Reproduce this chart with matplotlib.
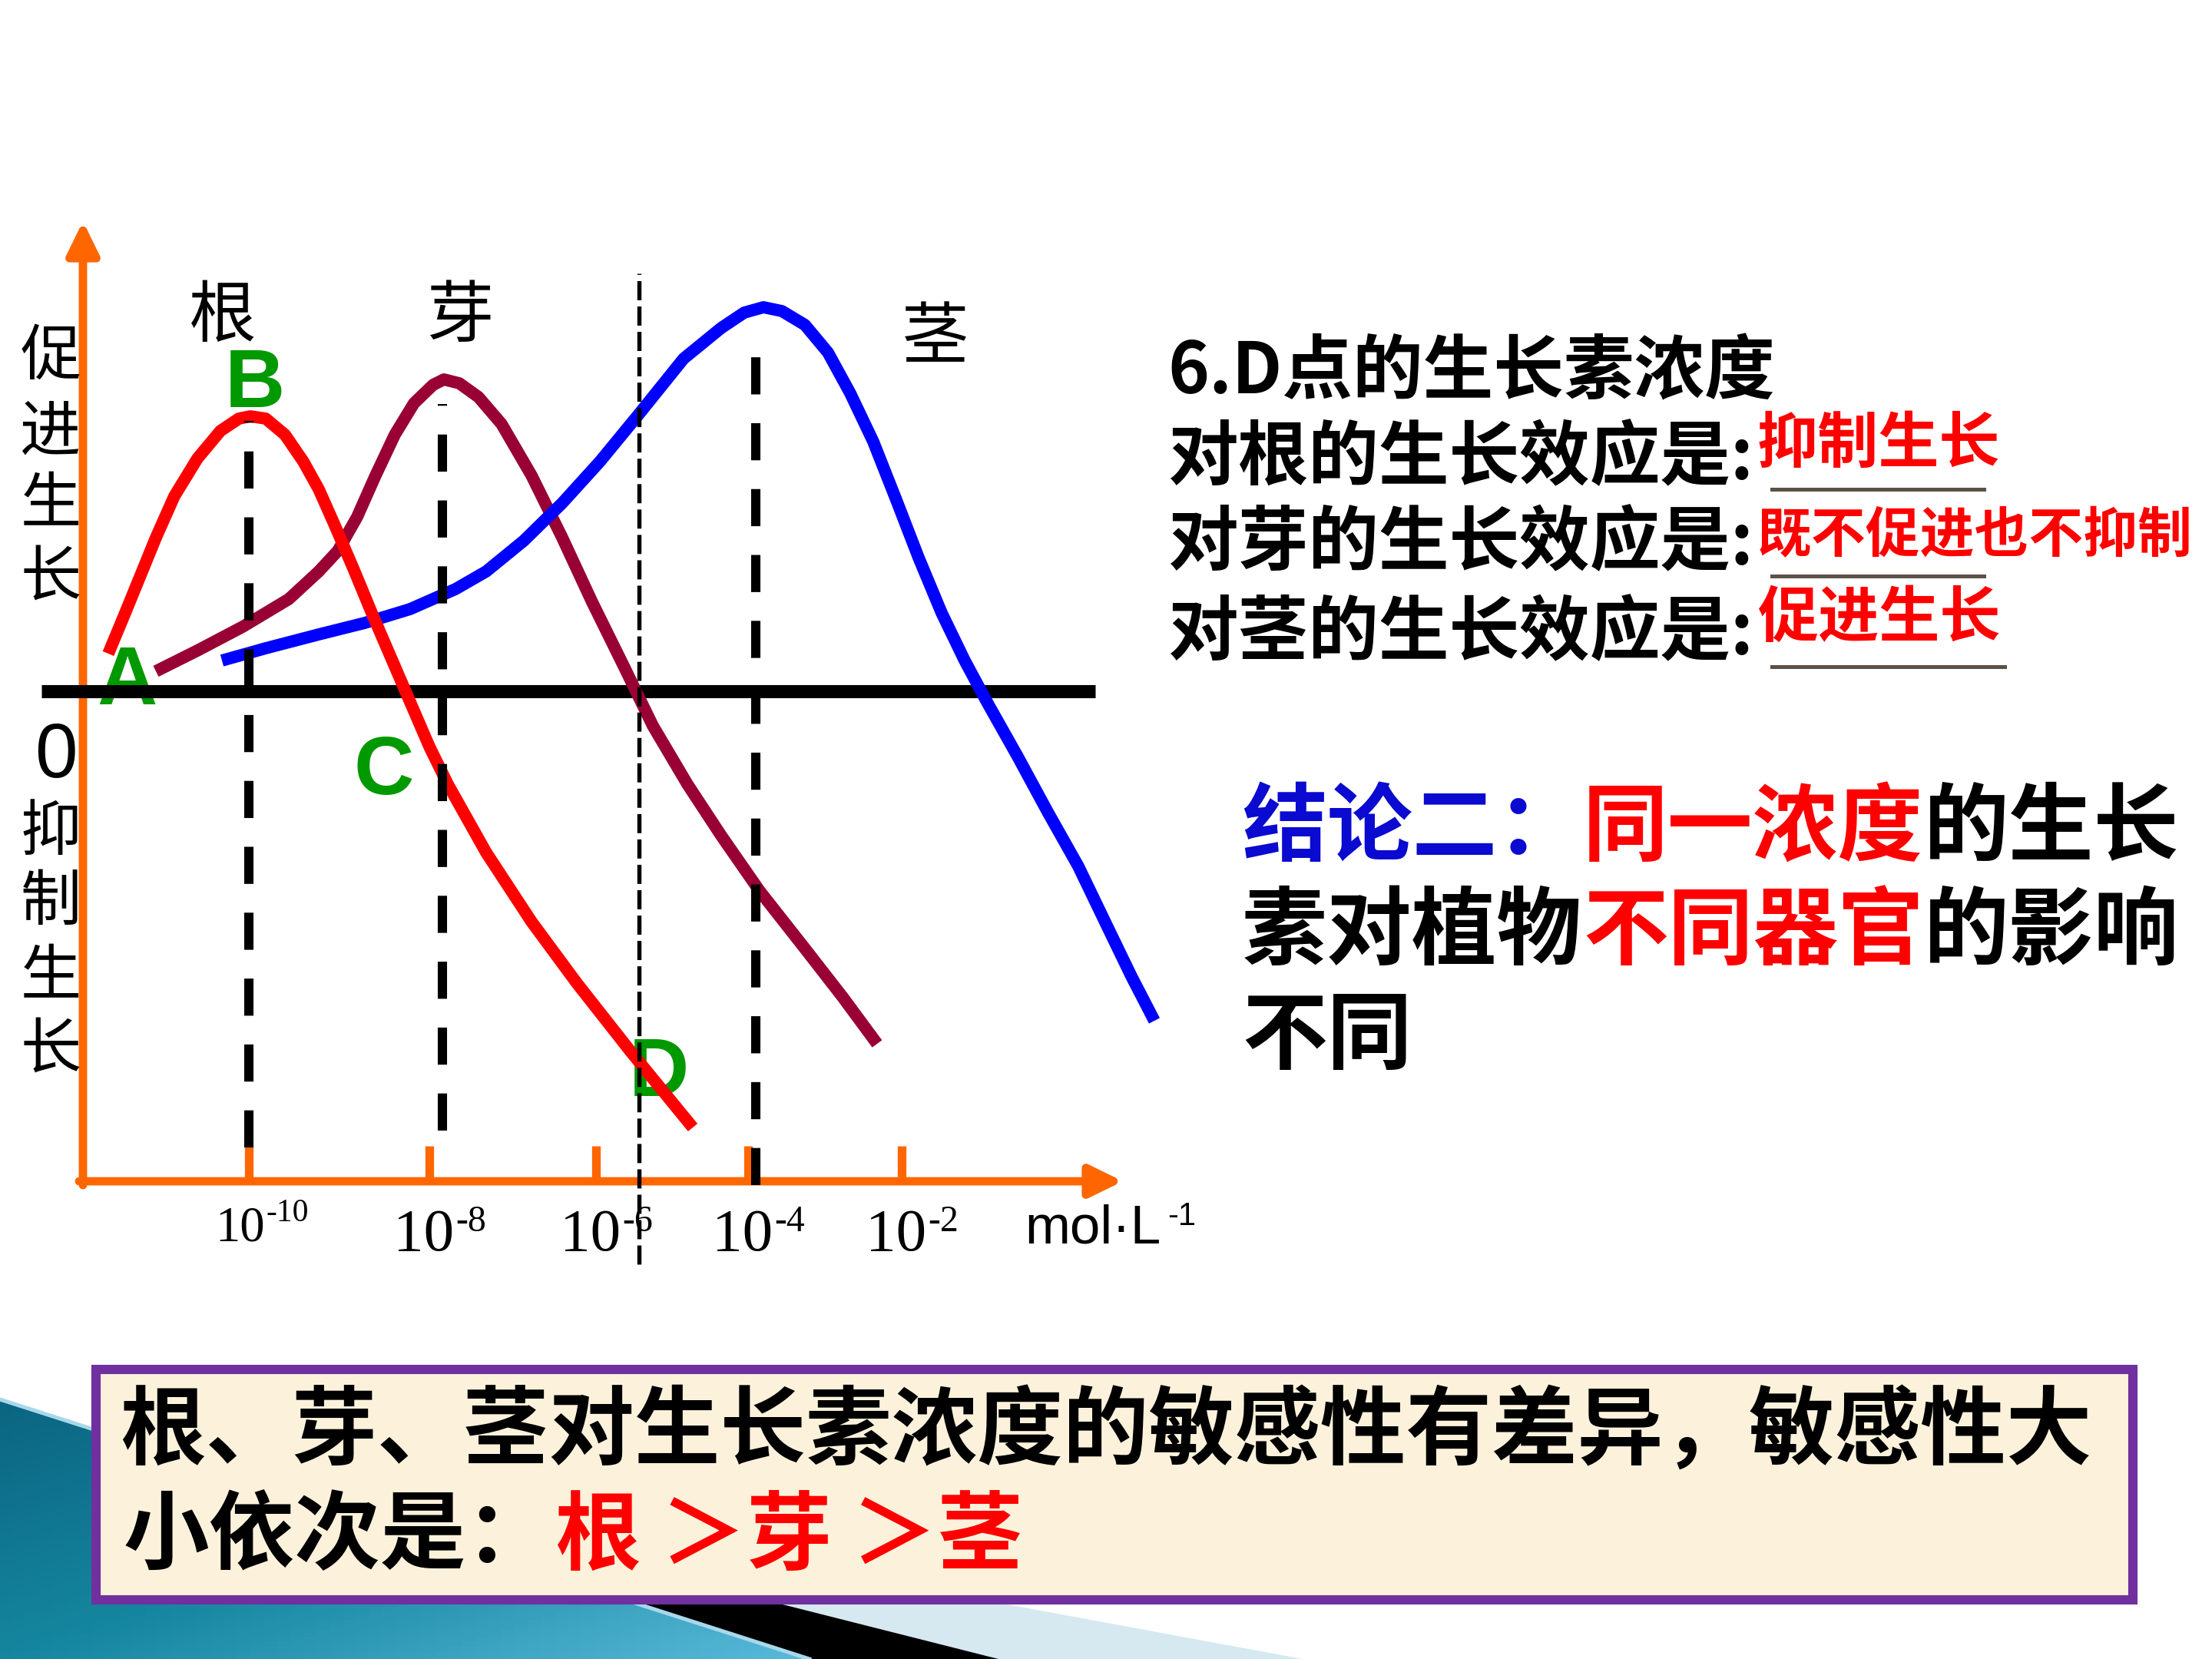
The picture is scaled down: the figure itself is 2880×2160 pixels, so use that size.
import numpy as np
import matplotlib
matplotlib.use('Agg')
import matplotlib.pyplot as plt
from matplotlib.patches import Polygon, Rectangle
from matplotlib.colors import LinearSegmentedColormap

plt.rcParams['font.family'] = ['Noto Sans CJK SC', 'DejaVu Sans']

# ---- data (x: position along the concentration axis, y: growth effect) ----
root_x = [0.33, 0.55, 0.75, 0.95, 1.19, 1.49, 1.79, 2.03, 2.18, 2.38, 2.63, 2.87, 3.07, 3.27,
          3.52, 3.76, 4.01, 4.26, 4.51, 4.75, 5.25, 5.84, 6.43, 7.13, 7.94]
root_y = [0.49, 1.02, 1.51, 2.00, 2.54, 3.03, 3.39, 3.55, 3.58, 3.55, 3.34, 2.99, 2.63, 2.18,
          1.60, 1.02, 0.44, -0.14, -0.72, -1.21, -2.10, -3.00, -3.80, -4.69, -5.68]

bud_x = [0.95, 1.49, 2.08, 2.68, 3.07, 3.32, 3.57, 3.81, 4.06, 4.31, 4.56, 4.70, 4.90, 5.15,
         5.45, 5.84, 6.24, 6.63, 7.03, 7.42, 7.87, 8.31, 8.81, 9.40, 9.89, 10.34]
bud_y = [0.26, 0.53, 0.84, 1.20, 1.56, 1.83, 2.27, 2.81, 3.34, 3.75, 3.99, 4.06, 4.01, 3.83,
         3.48, 2.81, 2.00, 1.16, 0.35, -0.45, -1.21, -1.88, -2.60, -3.35, -3.98, -4.59]

stem_x = [1.81, 2.38, 3.07, 3.67, 4.26, 4.85, 5.25, 5.74, 6.24, 6.73, 7.24, 7.82, 8.31, 8.61,
          8.86, 9.10, 9.40, 9.70, 9.99, 10.29, 10.59, 10.88, 11.18, 11.48, 11.77, 12.17, 12.56,
          12.96, 13.35, 13.65, 13.95]
stem_y = [0.40, 0.56, 0.74, 0.89, 1.07, 1.33, 1.56, 1.96, 2.45, 2.99, 3.61, 4.33, 4.73, 4.93,
          5.00, 4.95, 4.77, 4.41, 3.88, 3.25, 2.49, 1.74, 1.02, 0.40, -0.14, -0.85, -1.57,
          -2.28, -3.09, -3.71, -4.29]

tick_pos = [2.16, 4.51, 6.68, 8.66, 10.66]
tick_exp = ['-10', '-8', '-6', '-4', '-2']

guide_x = [2.16, 4.68, 8.76]          # optimum concentrations (dashed)
guide_top = [3.52, 3.74, 4.68]
guide_bottom = [-5.94, -5.72, -6.43]
d_conc = 7.24                          # concentration of point D

point_names = ['A', 'B', 'C', 'D']
point_x = [0.57, 2.24, 3.92, 7.50]
point_y = [-0.17, 3.70, -1.34, -5.27]

organ_names = ['根', '芽', '茎']
organ_x = [1.82, 4.91, 11.10]
organ_y = [4.87, 4.87, 4.59]

promote_chars = ['促', '进', '生', '长']
promote_y = [4.35, 3.36, 2.42, 1.47]
inhibit_chars = ['抑', '制', '生', '长']
inhibit_y = [-1.84, -2.75, -3.73, -4.68]

ORANGE = '#FF6600'
GREEN = '#009900'
W, H = 2880, 2160


def fp(x, y):
    return x / W, 1 - y / H


fig = plt.figure(figsize=(9.6, 7.2), dpi=300)
fig.patch.set_facecolor('white')

# ---- background decoration (bottom-left slide theme) ----
bg = fig.add_axes([0, 0, 1, 1], zorder=0)
bg.set_xlim(0, W)
bg.set_ylim(H, 0)
bg.axis('off')
grad = np.add.outer(np.linspace(0, 1, 64), np.linspace(0, 1, 64))
teal_cmap = LinearSegmentedColormap.from_list('teal', ['#0b6380', '#15869f', '#5bbbdc'])
im = bg.imshow(grad, extent=(0, 1100, H, 1800), cmap=teal_cmap, aspect='auto', zorder=1)
teal = Polygon([(0, 1822), (1054, H), (0, H)], closed=True, fc='none', ec='none')
bg.add_patch(teal)
im.set_clip_path(teal)
bg.add_patch(Polygon([(223, 1888), (1300, H), (1696, H)], closed=True, fc='#d6e8f0', ec='none', zorder=0.5))
bg.add_patch(Polygon([(137, 1866), (1054, H), (1300, H)], closed=True, fc='black', ec='none', zorder=2))
bg.plot([0, 1054], [1822, H], color='#a8d8ea', lw=1.2, zorder=3)
bg.add_patch(Rectangle((125, 1783), 2652, 300, fc='#fcf2dc', ec='#7030a0', lw=2.9, zorder=5))
bg.set_xlim(0, W)
bg.set_ylim(H, 0)

# ---- chart ----
ax = fig.add_axes([0, 0, 1, 1], zorder=1)
ax.patch.set_alpha(0)
ax.set_xlim(-1.08, 27.72)
ax.set_ylim(-12.6, 9.0)
ax.axis('off')

x_axis_y = -6.38
arrow = dict(arrowstyle='-|>,head_length=0.86,head_width=0.42', mutation_scale=10,
             lw=2.6, color=ORANGE, shrinkA=0, shrinkB=0)
ax.annotate('', xy=(13.54, x_axis_y), xytext=(-0.05, x_axis_y), arrowprops=arrow, zorder=2)
ax.annotate('', xy=(0, 6.12), xytext=(0, x_axis_y - 0.05), arrowprops=arrow, zorder=2)
ax.vlines(tick_pos, x_axis_y, x_axis_y + 0.46, color=ORANGE, lw=2.7, zorder=2)

for name, x, y in zip(point_names, point_x, point_y):
    ax.text(x, y, name, color=GREEN, fontsize=26, fontweight='bold', family='Liberation Sans',
            ha='center', va='baseline', zorder=3)

ax.plot([-0.54, 13.18], [0, 0], color='black', lw=4.1, solid_capstyle='butt', zorder=4)

curve_style = dict(lw=3.8, solid_capstyle='butt', solid_joinstyle='round')
ax.plot(bud_x, bud_y, color='#990033', zorder=5, **curve_style)
ax.plot(stem_x, stem_y, color='#0000FF', zorder=6, **curve_style)
ax.plot(root_x, root_y, color='#FF0000', zorder=7, **curve_style)

for x, t, b in zip(guide_x, guide_top, guide_bottom):
    ax.plot([x, x], [b, t], color='black', lw=2.9, linestyle=(0, (4, 3.1)), zorder=8)
ax.plot([d_conc, d_conc], [-7.46, 5.44], color='black', lw=1.3, linestyle=(0, (4.6, 1.5)), zorder=8)

for name, x, y in zip(organ_names, organ_x, organ_y):
    ax.text(x, y, name, fontsize=21, ha='center', va='center', zorder=9)
for ch, y in zip(promote_chars, promote_y):
    ax.text(-0.42, y, ch, fontsize=19, ha='center', va='center', zorder=9)
for ch, y in zip(inhibit_chars, inhibit_y):
    ax.text(-0.42, y, ch, fontsize=19, ha='center', va='center', zorder=9)
ax.text(-0.35, -1.12, '0', fontsize=24, family='Liberation Sans', ha='center', va='baseline')

for i, (pos, e) in enumerate(zip(tick_pos, tick_exp)):
    if i == 0:
        base, size, sup, by = pos + 0.21, 15.5, 10, -7.15
    else:
        base, size, sup, by = pos + 0.32, 19, 11.5, -7.28
    ax.text(base, by, '10', fontsize=size, family='Liberation Serif', ha='right', va='baseline')
    ax.text(base + 0.02, by + 0.25, e, fontsize=sup, family='Liberation Serif', ha='left', va='baseline')
ax.text(12.26, -7.18, 'mol·L', fontsize=17, family='Liberation Sans', ha='left', va='baseline')
ax.text(14.12, -6.95, '-1', fontsize=10, family='Liberation Sans', ha='left', va='baseline')

# ---- right side text ----
heavy = dict(fontweight='heavy', va='center', ha='left')
fig.text(*fp(1520, 485), '6.D点的生长素浓度', fontsize=22, color='black', **heavy)
for y, organ in zip([597, 708, 825], ['根', '芽', '茎']):
    fig.text(*fp(1520, y), '对' + organ + '的生长效应是:', fontsize=22, color='black', **heavy)
fig.text(*fp(2288, 578), '抑制生长', fontsize=19, color='#FF0000', **heavy)
fig.text(*fp(2288, 698), '既不促进也不抑制', fontsize=17, color='#FF0000', **heavy)
fig.text(*fp(2288, 805), '促进生长', fontsize=19, color='#FF0000', **heavy)
for y, x1 in zip([637, 750, 868], [2583, 2583, 2610]):
    fig.add_artist(plt.Line2D([2307 / W, x1 / W], [1 - y / H, 1 - y / H], color='#5b5147', lw=1.2))

concl = [
    [('结论二：', '#0a0ad0'), ('同一浓度', '#FF0000'), ('的生长', 'black')],
    [('素对植物', 'black'), ('不同器官', '#FF0000'), ('的影响', 'black')],
    [('不同', 'black')],
]
for y, pieces in zip([1080, 1215, 1351], concl):
    x = 1617
    for s, c in pieces:
        fig.text(*fp(x, y), s, fontsize=26.6, color=c, **heavy)
        x += 111 * len(s)

# ---- bottom box text ----
fig.text(*fp(156, 1866), '根、芽、茎对生长素浓度的敏感性有差异，敏感性大', fontsize=26.8,
         color='black', zorder=6, **heavy)
fig.text(*fp(161, 2002), '小依次是：', fontsize=26.8, color='black', zorder=6, **heavy)
fig.text(*fp(723, 2002), '根 ＞芽 ＞茎', fontsize=26.8, color='#FF0000', zorder=6, **heavy)

fig.savefig('out.png', dpi=300, facecolor='white')
